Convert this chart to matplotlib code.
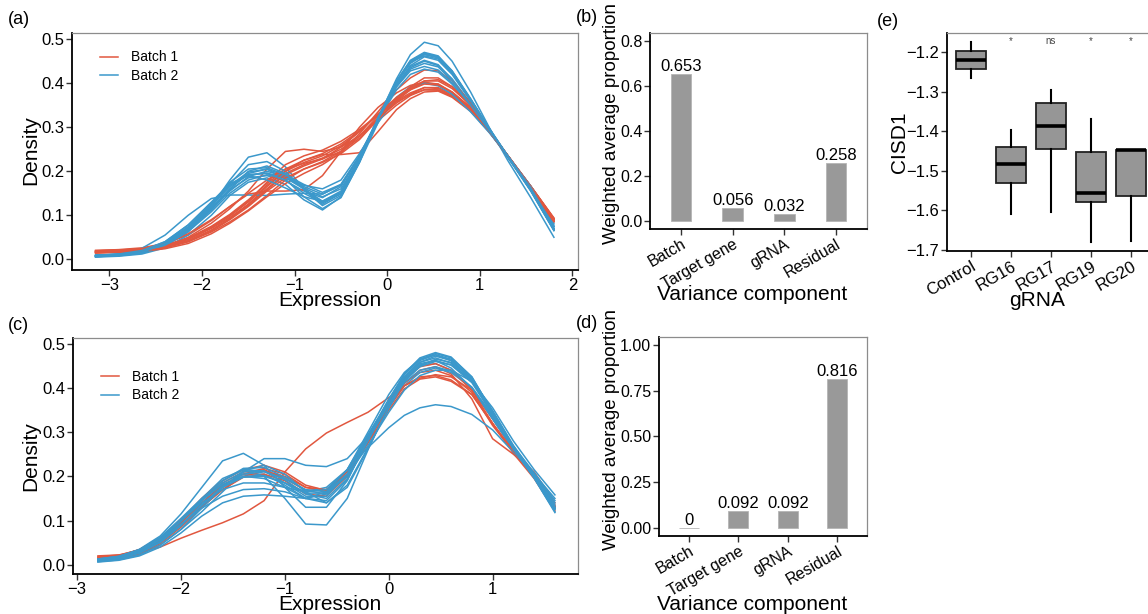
import matplotlib
matplotlib.use("Agg")
import matplotlib.pyplot as plt
import numpy as np

plt.rcParams["font.family"] = ["Liberation Sans", "DejaVu Sans"]

# ---------------------------------------------------------------------------
# Panel (a): per-sample densities before correction
x_a = [-3.15, -2.9, -2.65, -2.4, -2.15, -1.9, -1.7, -1.5, -1.3, -1.1, -0.9, -0.7,
       -0.5, -0.3, -0.1, 0.1, 0.25, 0.4, 0.55, 0.7, 0.9, 1.1, 1.3, 1.55, 1.8]

batch1_a = [
    [0.018, 0.020, 0.022, 0.030, 0.045, 0.070, 0.095, 0.125, 0.160, 0.195, 0.215, 0.230, 0.250, 0.280, 0.320, 0.355, 0.375, 0.390, 0.390, 0.375, 0.340, 0.290, 0.235, 0.165, 0.090],
    [0.015, 0.017, 0.020, 0.030, 0.050, 0.082, 0.115, 0.155, 0.205, 0.245, 0.250, 0.245, 0.255, 0.280, 0.315, 0.350, 0.372, 0.385, 0.385, 0.370, 0.338, 0.290, 0.236, 0.166, 0.092],
    [0.020, 0.022, 0.026, 0.036, 0.055, 0.088, 0.120, 0.148, 0.155, 0.155, 0.158, 0.190, 0.245, 0.300, 0.345, 0.378, 0.395, 0.402, 0.398, 0.378, 0.340, 0.290, 0.235, 0.165, 0.090],
    [0.016, 0.018, 0.021, 0.028, 0.042, 0.066, 0.092, 0.125, 0.165, 0.200, 0.225, 0.238, 0.238, 0.242, 0.290, 0.340, 0.365, 0.380, 0.382, 0.368, 0.336, 0.290, 0.236, 0.166, 0.092],
    [0.017, 0.019, 0.021, 0.027, 0.040, 0.062, 0.085, 0.112, 0.145, 0.180, 0.205, 0.222, 0.245, 0.285, 0.335, 0.385, 0.412, 0.430, 0.428, 0.405, 0.355, 0.295, 0.234, 0.160, 0.085],
    [0.019, 0.021, 0.024, 0.032, 0.048, 0.075, 0.102, 0.135, 0.172, 0.205, 0.225, 0.240, 0.262, 0.292, 0.328, 0.360, 0.378, 0.390, 0.388, 0.372, 0.338, 0.290, 0.236, 0.166, 0.092],
    [0.014, 0.016, 0.018, 0.024, 0.036, 0.058, 0.082, 0.110, 0.142, 0.172, 0.195, 0.215, 0.242, 0.280, 0.325, 0.365, 0.388, 0.400, 0.398, 0.380, 0.345, 0.292, 0.236, 0.164, 0.088],
    [0.018, 0.020, 0.023, 0.031, 0.047, 0.073, 0.100, 0.132, 0.175, 0.215, 0.235, 0.248, 0.268, 0.295, 0.328, 0.358, 0.374, 0.385, 0.384, 0.370, 0.338, 0.290, 0.236, 0.166, 0.094],
    [0.016, 0.019, 0.024, 0.036, 0.058, 0.090, 0.120, 0.150, 0.180, 0.205, 0.218, 0.228, 0.245, 0.275, 0.318, 0.360, 0.385, 0.405, 0.408, 0.392, 0.350, 0.294, 0.235, 0.162, 0.086],
    [0.020, 0.021, 0.023, 0.029, 0.042, 0.066, 0.092, 0.122, 0.158, 0.192, 0.212, 0.228, 0.255, 0.290, 0.330, 0.368, 0.390, 0.405, 0.405, 0.388, 0.350, 0.294, 0.236, 0.162, 0.086],
    [0.017, 0.019, 0.022, 0.030, 0.046, 0.072, 0.098, 0.130, 0.168, 0.200, 0.220, 0.235, 0.258, 0.290, 0.330, 0.365, 0.385, 0.398, 0.396, 0.380, 0.344, 0.292, 0.236, 0.164, 0.089],
    [0.015, 0.017, 0.019, 0.026, 0.040, 0.064, 0.090, 0.120, 0.155, 0.185, 0.205, 0.220, 0.240, 0.272, 0.318, 0.362, 0.392, 0.412, 0.412, 0.392, 0.350, 0.293, 0.235, 0.161, 0.086],
]

batch2_a = [
    [0.008, 0.010, 0.017, 0.035, 0.068, 0.115, 0.158, 0.185, 0.190, 0.178, 0.155, 0.140, 0.165, 0.235, 0.320, 0.395, 0.435, 0.450, 0.440, 0.410, 0.355, 0.295, 0.235, 0.160, 0.070],
    [0.006, 0.008, 0.014, 0.030, 0.062, 0.120, 0.180, 0.232, 0.242, 0.210, 0.160, 0.125, 0.150, 0.225, 0.315, 0.395, 0.438, 0.452, 0.442, 0.408, 0.350, 0.290, 0.232, 0.160, 0.075],
    [0.010, 0.012, 0.018, 0.036, 0.070, 0.118, 0.160, 0.195, 0.205, 0.182, 0.142, 0.115, 0.140, 0.220, 0.320, 0.410, 0.465, 0.493, 0.485, 0.450, 0.380, 0.300, 0.225, 0.140, 0.050],
    [0.005, 0.007, 0.012, 0.026, 0.055, 0.100, 0.145, 0.175, 0.185, 0.170, 0.135, 0.112, 0.142, 0.220, 0.310, 0.395, 0.440, 0.460, 0.452, 0.420, 0.360, 0.295, 0.232, 0.155, 0.065],
    [0.008, 0.012, 0.025, 0.055, 0.100, 0.138, 0.146, 0.146, 0.145, 0.148, 0.150, 0.148, 0.170, 0.235, 0.315, 0.385, 0.420, 0.432, 0.425, 0.398, 0.348, 0.292, 0.235, 0.162, 0.078],
    [0.007, 0.010, 0.016, 0.033, 0.066, 0.112, 0.155, 0.188, 0.200, 0.188, 0.162, 0.142, 0.160, 0.228, 0.318, 0.400, 0.445, 0.465, 0.458, 0.425, 0.362, 0.298, 0.236, 0.158, 0.068],
    [0.009, 0.011, 0.018, 0.038, 0.074, 0.125, 0.168, 0.198, 0.205, 0.190, 0.165, 0.148, 0.168, 0.232, 0.318, 0.392, 0.432, 0.445, 0.437, 0.405, 0.352, 0.294, 0.236, 0.162, 0.074],
    [0.008, 0.011, 0.019, 0.040, 0.078, 0.128, 0.168, 0.192, 0.196, 0.185, 0.168, 0.160, 0.180, 0.240, 0.310, 0.368, 0.392, 0.400, 0.394, 0.375, 0.335, 0.288, 0.236, 0.166, 0.082],
    [0.006, 0.009, 0.015, 0.031, 0.063, 0.108, 0.150, 0.180, 0.192, 0.185, 0.160, 0.130, 0.148, 0.225, 0.322, 0.405, 0.450, 0.468, 0.460, 0.428, 0.365, 0.298, 0.234, 0.156, 0.066],
    [0.007, 0.010, 0.016, 0.034, 0.068, 0.120, 0.172, 0.215, 0.222, 0.200, 0.158, 0.122, 0.145, 0.222, 0.318, 0.402, 0.448, 0.466, 0.458, 0.425, 0.362, 0.296, 0.234, 0.158, 0.070],
    [0.007, 0.009, 0.015, 0.032, 0.065, 0.112, 0.160, 0.200, 0.212, 0.195, 0.160, 0.132, 0.152, 0.228, 0.322, 0.405, 0.452, 0.470, 0.462, 0.428, 0.364, 0.297, 0.234, 0.156, 0.066],
    [0.008, 0.010, 0.017, 0.036, 0.072, 0.122, 0.165, 0.192, 0.195, 0.180, 0.150, 0.128, 0.150, 0.225, 0.318, 0.402, 0.448, 0.462, 0.455, 0.422, 0.360, 0.296, 0.235, 0.158, 0.068],
    [0.006, 0.009, 0.016, 0.035, 0.070, 0.125, 0.175, 0.205, 0.208, 0.192, 0.170, 0.152, 0.170, 0.235, 0.318, 0.392, 0.428, 0.438, 0.430, 0.400, 0.350, 0.293, 0.236, 0.162, 0.074],
    [0.009, 0.012, 0.020, 0.040, 0.078, 0.130, 0.172, 0.190, 0.180, 0.162, 0.142, 0.132, 0.155, 0.228, 0.320, 0.402, 0.450, 0.468, 0.460, 0.426, 0.363, 0.297, 0.234, 0.157, 0.067],
]

# ---------------------------------------------------------------------------
# Panel (c): per-sample densities after correction
x_c = [-2.8, -2.6, -2.4, -2.2, -2.0, -1.8, -1.6, -1.4, -1.2, -1.0, -0.8, -0.6,
       -0.4, -0.2, 0.0, 0.15, 0.3, 0.45, 0.6, 0.8, 1.0, 1.2, 1.4, 1.6]

batch1_c = [
    [0.020, 0.022, 0.028, 0.040, 0.060, 0.078, 0.095, 0.115, 0.145, 0.210, 0.262, 0.298, 0.322, 0.345, 0.378, 0.405, 0.422, 0.430, 0.425, 0.395, 0.330, 0.262, 0.200, 0.128],
    [0.015, 0.020, 0.032, 0.058, 0.100, 0.148, 0.185, 0.210, 0.215, 0.195, 0.168, 0.170, 0.210, 0.285, 0.365, 0.412, 0.435, 0.440, 0.428, 0.390, 0.315, 0.255, 0.205, 0.135],
    [0.012, 0.017, 0.030, 0.055, 0.095, 0.140, 0.180, 0.205, 0.218, 0.205, 0.175, 0.165, 0.200, 0.278, 0.360, 0.410, 0.440, 0.448, 0.432, 0.375, 0.285, 0.250, 0.210, 0.140],
    [0.018, 0.022, 0.033, 0.055, 0.090, 0.132, 0.170, 0.198, 0.205, 0.190, 0.160, 0.155, 0.200, 0.285, 0.368, 0.420, 0.448, 0.455, 0.440, 0.395, 0.320, 0.252, 0.195, 0.122],
    [0.010, 0.014, 0.025, 0.048, 0.085, 0.130, 0.170, 0.200, 0.212, 0.200, 0.175, 0.170, 0.205, 0.280, 0.358, 0.405, 0.425, 0.428, 0.418, 0.385, 0.318, 0.255, 0.200, 0.132],
    [0.016, 0.021, 0.034, 0.060, 0.102, 0.150, 0.190, 0.215, 0.225, 0.210, 0.180, 0.168, 0.202, 0.275, 0.350, 0.398, 0.420, 0.425, 0.415, 0.385, 0.320, 0.258, 0.202, 0.132],
]

batch2_c = [
    [0.010, 0.015, 0.030, 0.055, 0.095, 0.140, 0.180, 0.205, 0.205, 0.180, 0.150, 0.160, 0.215, 0.295, 0.370, 0.420, 0.450, 0.455, 0.440, 0.400, 0.330, 0.260, 0.200, 0.130],
    [0.012, 0.018, 0.035, 0.065, 0.115, 0.175, 0.235, 0.252, 0.225, 0.175, 0.130, 0.130, 0.190, 0.285, 0.370, 0.425, 0.455, 0.462, 0.445, 0.400, 0.330, 0.260, 0.198, 0.128],
    [0.008, 0.012, 0.024, 0.045, 0.080, 0.120, 0.165, 0.210, 0.240, 0.240, 0.225, 0.222, 0.240, 0.290, 0.355, 0.405, 0.435, 0.445, 0.435, 0.400, 0.335, 0.265, 0.205, 0.140],
    [0.010, 0.016, 0.030, 0.058, 0.100, 0.150, 0.195, 0.215, 0.200, 0.150, 0.092, 0.090, 0.150, 0.260, 0.360, 0.425, 0.462, 0.475, 0.465, 0.420, 0.345, 0.265, 0.198, 0.125],
    [0.014, 0.020, 0.034, 0.060, 0.100, 0.140, 0.170, 0.185, 0.185, 0.175, 0.165, 0.175, 0.215, 0.265, 0.310, 0.338, 0.355, 0.362, 0.358, 0.340, 0.305, 0.255, 0.205, 0.150],
    [0.006, 0.010, 0.020, 0.040, 0.072, 0.110, 0.140, 0.155, 0.158, 0.155, 0.150, 0.165, 0.215, 0.300, 0.385, 0.435, 0.465, 0.475, 0.462, 0.420, 0.345, 0.265, 0.200, 0.130],
    [0.012, 0.018, 0.034, 0.062, 0.105, 0.150, 0.190, 0.215, 0.212, 0.185, 0.155, 0.155, 0.205, 0.290, 0.375, 0.430, 0.465, 0.478, 0.468, 0.425, 0.345, 0.262, 0.196, 0.120],
    [0.009, 0.014, 0.028, 0.052, 0.090, 0.135, 0.175, 0.198, 0.200, 0.185, 0.165, 0.170, 0.215, 0.290, 0.365, 0.412, 0.440, 0.448, 0.438, 0.402, 0.338, 0.268, 0.208, 0.145],
    [0.011, 0.016, 0.030, 0.056, 0.098, 0.145, 0.185, 0.210, 0.212, 0.192, 0.160, 0.150, 0.195, 0.280, 0.365, 0.420, 0.452, 0.462, 0.452, 0.412, 0.340, 0.262, 0.198, 0.128],
    [0.013, 0.019, 0.033, 0.057, 0.092, 0.128, 0.155, 0.170, 0.172, 0.165, 0.150, 0.140, 0.180, 0.265, 0.355, 0.415, 0.450, 0.465, 0.458, 0.420, 0.345, 0.265, 0.200, 0.128],
    [0.007, 0.011, 0.022, 0.044, 0.080, 0.128, 0.175, 0.212, 0.225, 0.205, 0.165, 0.140, 0.175, 0.262, 0.355, 0.418, 0.458, 0.472, 0.462, 0.422, 0.348, 0.268, 0.202, 0.130],
    [0.010, 0.015, 0.028, 0.052, 0.090, 0.135, 0.175, 0.200, 0.202, 0.185, 0.162, 0.162, 0.200, 0.270, 0.345, 0.395, 0.428, 0.440, 0.440, 0.415, 0.355, 0.280, 0.215, 0.158],
    [0.011, 0.016, 0.031, 0.058, 0.100, 0.148, 0.190, 0.218, 0.220, 0.198, 0.168, 0.160, 0.205, 0.290, 0.372, 0.425, 0.458, 0.468, 0.456, 0.415, 0.340, 0.262, 0.198, 0.126],
    [0.009, 0.013, 0.026, 0.050, 0.088, 0.135, 0.178, 0.205, 0.210, 0.195, 0.170, 0.165, 0.205, 0.282, 0.362, 0.415, 0.448, 0.460, 0.452, 0.418, 0.348, 0.270, 0.204, 0.135],
    [0.013, 0.019, 0.034, 0.060, 0.100, 0.145, 0.182, 0.200, 0.195, 0.175, 0.150, 0.145, 0.192, 0.282, 0.372, 0.432, 0.468, 0.480, 0.470, 0.425, 0.345, 0.262, 0.196, 0.118],
]

# ---------------------------------------------------------------------------
# Panels (b) and (d): variance partition
components = ["Batch", "Target gene", "gRNA", "Residual"]
variance_before = [0.653, 0.056, 0.032, 0.258]
variance_after = [0.0, 0.092, 0.092, 0.816]
labels_before = ["0.653", "0.056", "0.032", "0.258"]
labels_after = ["0", "0.092", "0.092", "0.816"]

# Panel (e): CISD1 expression per gRNA
grnas = ["Control", "RG16", "RG17", "RG19", "RG20"]
whis_low = [-1.265, -1.608, -1.605, -1.679, -1.676]
q1 = [-1.242, -1.532, -1.445, -1.580, -1.563]
median = [-1.220, -1.483, -1.386, -1.557, -1.448]
q3 = [-1.198, -1.439, -1.330, -1.452, -1.448]
whis_high = [-1.175, -1.396, -1.295, -1.368, -1.448]
signif = ["", "*", "ns", "*", "*"]

RED = "#E1573F"
BLUE = "#3B98CB"
BAR_GREY = "#999999"

W, H = 1148, 614
fig = plt.figure(figsize=(W / 100, H / 100), dpi=100)


def px_box(left, top, right, bottom):
    return [left / W, 1 - bottom / H, (right - left) / W, (bottom - top) / H]


def style_axes(ax, size=12):
    for side in ["top", "right"]:
        ax.spines[side].set_color("#8c8c8c")
        ax.spines[side].set_linewidth(0.9)
    for side in ["left", "bottom"]:
        ax.spines[side].set_color("black")
        ax.spines[side].set_linewidth(1.3)
    ax.tick_params(axis="both", length=4, width=1.0, color="#333333",
                   labelsize=size, labelcolor="black", pad=1.5)


def density_panel(ax, xs, batch1, batch2, legend_anchor):
    for i in range(max(len(batch1), len(batch2))):
        if i < len(batch1):
            ax.plot(xs, batch1[i], color=RED, lw=1.1,
                    label="Batch 1" if i == 0 else None)
        if i < len(batch2):
            ax.plot(xs, batch2[i], color=BLUE, lw=1.1,
                    label="Batch 2" if i == 0 else None)
    ax.set_yticks([0.0, 0.1, 0.2, 0.3, 0.4, 0.5])
    ax.set_yticklabels(["0.0", "0.1", "0.2", "0.3", "0.4", "0.5"])
    ax.legend(loc="upper left", bbox_to_anchor=legend_anchor, frameon=False,
              fontsize=10, handlelength=1.3, handletextpad=0.9,
              labelspacing=0.35, borderaxespad=0)
    style_axes(ax)


def variance_panel(ax, values, texts, yticks, yticklabels):
    pos = np.arange(1, len(components) + 1)
    ax.bar(pos, values, width=0.4, color=BAR_GREY, edgecolor="#b5b5b5",
           linewidth=0.6)
    for p, v, t in zip(pos, values, texts):
        ax.text(p, v, t, ha="center", va="bottom", fontsize=12)
    ax.set_xticks(pos)
    ax.set_xticklabels(components, rotation=30, ha="right",
                       rotation_mode="anchor")
    ax.set_yticks(yticks)
    ax.set_yticklabels(yticklabels)
    ax.set_xlim(0.4, 4.6)
    style_axes(ax, size=11.5)


# (a)
ax_a = fig.add_axes(px_box(72, 33, 578, 270))
density_panel(ax_a, x_a, batch1_a, batch2_a, (0.045, 0.95))
ax_a.set_xlim(-3.405, 2.06)
ax_a.set_ylim(-0.0243, 0.514)
ax_a.set_xticks([-3, -2, -1, 0, 1, 2])

# (c)
ax_c = fig.add_axes(px_box(73, 338, 578, 574))
density_panel(ax_c, x_c, batch1_c, batch2_c, (0.045, 0.89))
ax_c.set_xlim(-3.04, 1.822)
ax_c.set_ylim(-0.021, 0.513)
ax_c.set_xticks([-3, -2, -1, 0, 1])

# (b)
ax_b = fig.add_axes(px_box(650, 33, 867, 229))
variance_panel(ax_b, variance_before, labels_before,
               [0.0, 0.2, 0.4, 0.6, 0.8], ["0.0", "0.2", "0.4", "0.6", "0.8"])
ax_b.set_ylim(-0.037, 0.836)

# (d)
ax_d = fig.add_axes(px_box(659, 337, 867, 536))
variance_panel(ax_d, variance_after, labels_after,
               [0.0, 0.25, 0.5, 0.75, 1.0],
               ["0.00", "0.25", "0.50", "0.75", "1.00"])
ax_d.set_ylim(-0.045, 1.044)

# (e)
ax_e = fig.add_axes(px_box(947, 33, 1155, 251))
stats = []
for g, lo, a, m, b, hi in zip(grnas, whis_low, q1, median, q3, whis_high):
    stats.append({"label": g, "whislo": lo, "q1": a, "med": m, "q3": b,
                  "whishi": hi})
ax_e.bxp(stats, positions=np.arange(1, 6), widths=0.73, showfliers=False,
         showcaps=False, patch_artist=True,
         boxprops=dict(facecolor="#969696", edgecolor="#222222", linewidth=1.3),
         medianprops=dict(color="black", linewidth=2.6),
         whiskerprops=dict(color="black", linewidth=1.5))
for i, s in enumerate(signif):
    if s:
        ax_e.text(i + 1, -1.172, s, ha="center", va="center", fontsize=7,
                  color="#444444")
ax_e.set_xlim(0.4, 5.6)
ax_e.set_ylim(-1.7025, -1.152)
ax_e.set_yticks([-1.7, -1.6, -1.5, -1.4, -1.3, -1.2])
ax_e.set_yticklabels(["\u22121.7", "\u22121.6", "\u22121.5", "\u22121.4",
                      "\u22121.3", "\u22121.2"])
ax_e.set_xticks(np.arange(1, 6))
ax_e.set_xticklabels(grnas, rotation=30, ha="right", rotation_mode="anchor")
style_axes(ax_e)

# axis titles
title_size = 15
fig.text(31 / W, 1 - 150 / H, "Density", rotation=90, ha="center",
         va="center", fontsize=title_size)
fig.text(31 / W, 1 - 456 / H, "Density", rotation=90, ha="center",
         va="center", fontsize=title_size)
fig.text(330 / W, 1 - 300 / H, "Expression", ha="center", va="center",
         fontsize=title_size)
fig.text(330 / W, 1 - 605 / H, "Expression", ha="center", va="center",
         fontsize=title_size)
fig.text(612 / W, 1 - 123 / H, "Weighted average proportion", rotation=90,
         ha="center", va="center", fontsize=13.5)
fig.text(612 / W, 1 - 429 / H, "Weighted average proportion", rotation=90,
         ha="center", va="center", fontsize=13.5)
fig.text(752 / W, 1 - 295 / H, "Variance component", ha="center",
         va="center", fontsize=title_size)
fig.text(752 / W, 1 - 604 / H, "Variance component", ha="center",
         va="center", fontsize=title_size)
fig.text(900 / W, 1 - 142 / H, "CISD1", rotation=90, ha="center",
         va="center", fontsize=title_size)
fig.text(1037 / W, 1 - 300 / H, "gRNA", ha="center", va="center",
         fontsize=title_size)

# panel tags
for tag, x, y in [("(a)", 8, 20), ("(c)", 8, 326), ("(b)", 576, 18),
                  ("(d)", 576, 323), ("(e)", 877, 22)]:
    fig.text(x / W, 1 - y / H, tag, ha="left", va="center", fontsize=13)

fig.savefig("out.png", dpi=100)
